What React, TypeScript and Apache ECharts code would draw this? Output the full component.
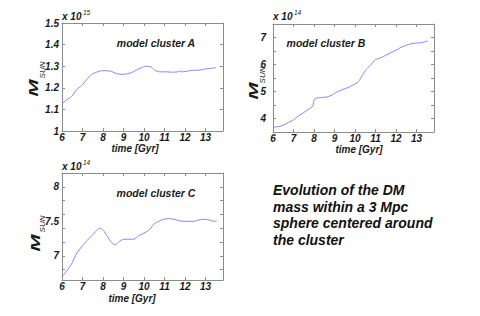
import React, { useEffect, useRef } from "react";
import * as echarts from "echarts";

const xTicks = [6, 7, 8, 9, 10, 11, 12, 13];

const timeA = [6.0, 6.23, 6.47, 6.71, 6.96, 7.2, 7.44, 7.68, 7.93, 8.17, 8.41, 8.65, 8.9, 9.14, 9.38, 9.63, 9.87, 10.11, 10.35, 10.51, 10.76, 11.08, 11.4, 11.65, 11.73, 11.8, 12.05, 12.37, 12.7, 13.02, 13.35, 13.51];
const massA = [1.126, 1.145, 1.16, 1.192, 1.21, 1.238, 1.262, 1.272, 1.279, 1.279, 1.276, 1.266, 1.262, 1.264, 1.27, 1.282, 1.293, 1.3, 1.296, 1.282, 1.274, 1.274, 1.272, 1.274, 1.278, 1.274, 1.276, 1.281, 1.282, 1.288, 1.291, 1.293];
const yTicksA = [1, 1.1, 1.2, 1.3, 1.4, 1.5];
const yLabelsA = [1, 1.1, 1.2, 1.3, 1.4, 1.5];

const timeB = [6.0, 6.25, 6.5, 6.75, 7.0, 7.25, 7.5, 7.75, 7.93, 7.98, 8.05, 8.4, 8.65, 8.9, 9.1, 9.35, 9.6, 9.85, 10.1, 10.2, 10.35, 10.5, 10.75, 11.0, 11.25, 11.5, 11.75, 12.0, 12.25, 12.5, 12.7, 12.95, 13.2, 13.45, 13.55];
const massB = [3.67, 3.7, 3.75, 3.85, 3.95, 4.1, 4.22, 4.35, 4.45, 4.62, 4.74, 4.78, 4.8, 4.88, 4.97, 5.06, 5.13, 5.22, 5.32, 5.4, 5.59, 5.78, 5.97, 6.18, 6.25, 6.34, 6.44, 6.53, 6.64, 6.71, 6.76, 6.79, 6.8, 6.85, 6.87];
const yTicksB = [3.5, 4, 4.5, 5, 5.5, 6, 6.5, 7, 7.5];
const yLabelsB = [4, 5, 6, 7];

const timeC = [6.0, 6.23, 6.48, 6.72, 6.96, 7.21, 7.45, 7.7, 7.86, 8.02, 8.19, 8.43, 8.6, 8.76, 9.01, 9.25, 9.5, 9.74, 9.99, 10.23, 10.48, 10.72, 10.97, 11.21, 11.46, 11.7, 11.95, 12.19, 12.44, 12.68, 12.93, 13.17, 13.42, 13.55];
const massC = [6.7, 6.78, 6.89, 7.04, 7.13, 7.22, 7.29, 7.37, 7.4, 7.37, 7.29, 7.19, 7.16, 7.2, 7.24, 7.24, 7.24, 7.29, 7.33, 7.37, 7.46, 7.5, 7.53, 7.54, 7.53, 7.51, 7.5, 7.5, 7.5, 7.52, 7.53, 7.52, 7.5, 7.51];
const yTicksC = [6.8, 7, 7.2, 7.4, 7.6, 7.8, 8, 8.2];
const yLabelsC = [7, 7.5, 8];

const FONT = "'Liberation Sans', Arial, Helvetica, sans-serif";
const AXIS_COLOR = "#8c8c8c";
const LINE_COLOR = "#8585ff";

function zip(xs: number[], ys: number[]) {
  return xs.map((x, i) => [x, ys[i]]);
}

export default function App() {
  const ref = useRef<HTMLDivElement>(null);

  useEffect(() => {
    if (!ref.current) return;
    const chart = echarts.init(ref.current, null, { renderer: "svg" });

    const grids = [
      { left: 62, top: 23, width: 161, height: 108 },
      { left: 273, top: 24, width: 161, height: 108 },
      { left: 62, top: 173, width: 161, height: 107 },
    ];
    const yRanges = [
      { min: 1, max: 1.5, ticks: yTicksA, labels: yLabelsA, margin: 3 },
      { min: 3.5, max: 7.5, ticks: yTicksB, labels: yLabelsB, margin: 7 },
      { min: 6.65, max: 8.2, ticks: yTicksC, labels: yLabelsC, margin: 3 },
    ];

    const labelStyle = {
      fontFamily: FONT,
      fontSize: 10,
      fontStyle: "italic" as const,
      fontWeight: "bold" as const,
      color: "#1a1a1a",
    };

    const xAxis: any[] = [];
    const yAxis: any[] = [];
    grids.forEach((_, gi) => {
      const base = {
        type: "value",
        gridIndex: gi,
        min: 6,
        max: 13.85,
        splitLine: { show: false },
        axisLine: { show: true, onZero: false, lineStyle: { color: AXIS_COLOR, width: 1 } },
        axisTick: { show: true, inside: true, length: 3, customValues: xTicks, lineStyle: { color: AXIS_COLOR } },
      };
      xAxis.push({
        ...base,
        position: "bottom",
        axisLabel: { ...labelStyle, margin: 1, customValues: xTicks, formatter: (v: number) => String(v) },
      });
      xAxis.push({ ...base, position: "top", axisLabel: { show: false } });
      const yr = yRanges[gi];
      const ybase = {
        type: "value",
        gridIndex: gi,
        min: yr.min,
        max: yr.max,
        splitLine: { show: false },
        axisLine: { show: true, onZero: false, lineStyle: { color: AXIS_COLOR, width: 1 } },
        axisTick: { show: true, inside: true, length: 3, customValues: yr.ticks, lineStyle: { color: AXIS_COLOR } },
      };
      yAxis.push({
        ...ybase,
        position: "left",
        axisLabel: { ...labelStyle, margin: yr.margin, customValues: yr.labels, formatter: (v: number) => String(v) },
      });
      yAxis.push({ ...ybase, position: "right", axisLabel: { show: false } });
    });

    const series = [
      zip(timeA, massA),
      zip(timeB, massB),
      zip(timeC, massC),
    ].map((data, gi) => ({
      type: "line",
      xAxisIndex: gi * 2,
      yAxisIndex: gi * 2,
      data,
      smooth: 0.25,
      symbol: "none",
      lineStyle: { color: LINE_COLOR, width: 1 },
    }));

    const txt = (
      text: string,
      x: number,
      y: number,
      size: number,
      opts: any = {}
    ) => ({
      type: "text",
      x,
      y,
      rotation: opts.rotation || 0,
      scaleX: opts.scaleX || 1,
      scaleY: opts.scaleY || 1,
      style: {
        text,
        fontFamily: FONT,
        fontSize: size,
        fontStyle: "italic",
        fontWeight: opts.weight || "bold",
        fill: opts.fill || "#1a1a1a",
        align: opts.align || "center",
        textAlign: opts.align || "center",
        verticalAlign: "middle",
        textVerticalAlign: "middle",
        lineHeight: opts.lineHeight,
      },
    });

    const graphic: any[] = [
      // exponents
      txt("x 10", 62, 16, 10, { align: "left" }),
      txt("15", 83, 12, 6.5, { align: "left", weight: "normal" }),
      txt("x 10", 273, 16, 10, { align: "left" }),
      txt("14", 294, 12, 6.5, { align: "left", weight: "normal" }),
      txt("x 10", 62, 166, 10, { align: "left" }),
      txt("14", 83, 162, 6.5, { align: "left", weight: "normal" }),
      // y axis names
      txt("M", 34, 88, 21, { rotation: Math.PI / 2, scaleY: 0.62 }),
      txt("SUN", 42, 70, 8, { rotation: Math.PI / 2, weight: "normal" }),
      txt("M", 254, 91, 21, { rotation: Math.PI / 2, scaleY: 0.62 }),
      txt("SUN", 262, 75, 8, { rotation: Math.PI / 2, weight: "normal" }),
      txt("M", 36, 243, 21, { rotation: Math.PI / 2, scaleY: 0.62 }),
      txt("SUN", 42, 224, 8, { rotation: Math.PI / 2, weight: "normal" }),
      // x axis names
      txt("time [Gyr]", 135, 148, 10),
      txt("time [Gyr]", 359, 149, 10),
      txt("time [Gyr]", 132, 298, 10),
      // panel labels
      txt("model cluster A", 156, 43, 10.5),
      txt("model cluster B", 326, 43, 10.5),
      txt("model cluster C", 156, 193, 10.5),
      // description
      txt("Evolution of the DM\nmass within a 3 Mpc\nsphere centered around\nthe cluster", 273, 215, 14, {
        align: "left",
        lineHeight: 16.7,
        fill: "#111",
      }),
    ];

    chart.setOption({
      animation: false,
      backgroundColor: "#ffffff",
      grid: grids.map((g) => ({ ...g, containLabel: false })),
      xAxis,
      yAxis,
      series,
      graphic,
    });

    return () => chart.dispose();
  }, []);

  return (
    <div
      ref={ref}
      style={{ position: "fixed", left: 0, top: 0, width: 480, height: 316, background: "#fff" }}
    />
  );
}
